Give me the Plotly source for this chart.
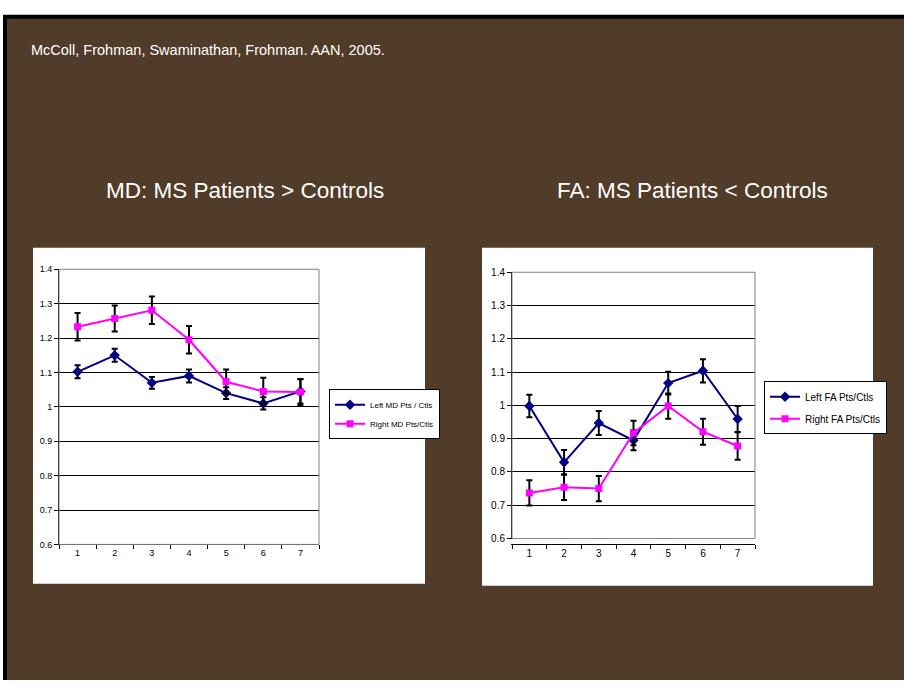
import plotly.graph_objects as go

W, H = 904, 686

# ---- data ----
categories = [1, 2, 3, 4, 5, 6, 7]
tick_labels = ["1", "2", "3", "4", "5", "6", "7"]

md_left = [1.102, 1.150, 1.070, 1.090, 1.040, 1.010, 1.045]
md_left_err = [0.019, 0.019, 0.017, 0.019, 0.017, 0.018, 0.035]
md_right = [1.233, 1.257, 1.281, 1.195, 1.073, 1.045, 1.043]
md_right_err = [0.040, 0.038, 0.040, 0.040, 0.036, 0.040, 0.038]

fa_left = [0.998, 0.829, 0.947, 0.895, 1.067, 1.104, 0.959]
fa_left_err = [0.034, 0.037, 0.036, 0.030, 0.034, 0.035, 0.039]
fa_right = [0.737, 0.754, 0.750, 0.917, 0.998, 0.921, 0.878]
fa_right_err = [0.038, 0.038, 0.038, 0.037, 0.038, 0.039, 0.041]

y_ticks = [0.6, 0.7, 0.8, 0.9, 1.0, 1.1, 1.2, 1.3, 1.4]
y_tick_text = ["0.6", "0.7", "0.8", "0.9", "1", "1.1", "1.2", "1.3", "1.4"]

NAVY = "#000080"
MAGENTA = "#ff00ff"
BROWN = "#503c28"


def px(x):
    return x / W


def py(y):
    return 1 - y / H


fig = go.Figure()


def add_series(xa, ya, leg, ylist, yerr, name, color, symbol, size):
    fig.add_trace(go.Scatter(
        x=categories, y=ylist, name=name, xaxis=xa, yaxis=ya, legend=leg,
        legendgroup=name,
        mode="lines+markers",
        line=dict(color=color, width=2),
        marker=dict(color=color, symbol=symbol, size=size),
        error_y=dict(type="data", array=yerr, visible=True, color="black",
                     thickness=2, width=3),
    ))


add_series("x", "y", "legend", md_left, md_left_err, "Left MD Pts / Ctls", NAVY, "diamond", 8)
add_series("x", "y", "legend", md_right, md_right_err, "Right MD Pts/Ctls", MAGENTA, "square", 7)
add_series("x2", "y2", "legend2", fa_left, fa_left_err, "Left FA Pts/Ctls", NAVY, "diamond", 8)
add_series("x2", "y2", "legend2", fa_right, fa_right_err, "Right FA Pts/Ctls", MAGENTA, "square", 7)

boundaries = [0.5, 1.5, 2.5, 3.5, 4.5, 5.5, 6.5, 7.5]


def xaxis_cfg(dom, fs):
    return dict(domain=dom, range=[0.5, 7.5], tickvals=categories, ticktext=tick_labels,
                ticks="", showgrid=False, zeroline=False, showline=True,
                linecolor="black", linewidth=1, fixedrange=True,
                tickfont=dict(family="Arial", size=fs, color="black"),
                minor=dict(tickvals=boundaries, ticks="outside", ticklen=4,
                           tickcolor="black", showgrid=False))


def yaxis_cfg(dom, fs, anchor):
    return dict(domain=dom, range=[0.6, 1.4], tickvals=y_ticks, ticktext=y_tick_text,
                ticks="outside", ticklen=4, tickcolor="black", showgrid=True,
                gridcolor="black", gridwidth=1, zeroline=False, showline=True,
                linecolor="black", linewidth=1, anchor=anchor, fixedrange=True,
                tickfont=dict(family="Arial", size=fs, color="black"))


shapes = [
    # black frame and brown slide
    dict(type="rect", xref="paper", yref="paper", x0=px(3), x1=1, y0=0, y1=py(9),
         fillcolor="black", line=dict(width=0), layer="below"),
    dict(type="rect", xref="paper", yref="paper", x0=px(7), x1=1, y0=0, y1=py(13),
         fillcolor=BROWN, line=dict(width=0), layer="below"),
    # white chart boxes
    dict(type="rect", xref="paper", yref="paper", x0=px(33), x1=px(425), y0=py(588), y1=py(246),
         fillcolor="white", line=dict(width=0), layer="below"),
    dict(type="rect", xref="paper", yref="paper", x0=px(482), x1=px(873), y0=py(590), y1=py(246),
         fillcolor="white", line=dict(width=0), layer="below"),
    # gray plot-area borders
    dict(type="rect", xref="x domain", yref="y domain", x0=0, x1=1, y0=0, y1=1,
         line=dict(color="#808080", width=1), layer="above"),
    dict(type="rect", xref="x2 domain", yref="y2 domain", x0=0, x1=1, y0=0, y1=1,
         line=dict(color="#808080", width=1), layer="above"),
]

annotations = [
    dict(text="McColl, Frohman, Swaminathan, Frohman. AAN, 2005.", xref="paper", yref="paper",
         x=px(29), y=py(45), xanchor="left", yanchor="middle", showarrow=False,
         font=dict(family="Arial", size=14.5, color="white")),
    dict(text="MD: MS Patients > Controls", xref="paper", yref="paper",
         x=px(245), y=py(188), xanchor="center", yanchor="middle", showarrow=False,
         font=dict(family="Arial", size=22.5, color="white")),
    dict(text="FA: MS Patients < Controls", xref="paper", yref="paper",
         x=px(692), y=py(188), xanchor="center", yanchor="middle", showarrow=False,
         font=dict(family="Arial", size=22.5, color="white")),
]

fig.update_layout(
    width=W, height=H,
    margin=dict(l=0, r=0, t=0, b=0),
    paper_bgcolor="white",
    plot_bgcolor="#c0c0c0",
    xaxis=xaxis_cfg([px(59), px(319)], 9),
    yaxis=yaxis_cfg([py(548), py(268)], 9, "x"),
    xaxis2=xaxis_cfg([px(512), px(755)], 10),
    yaxis2=yaxis_cfg([py(542), py(271)], 10, "x2"),
    legend=dict(x=px(329), y=py(390), xanchor="left", yanchor="top",
                bgcolor="white", bordercolor="black", borderwidth=1,
                font=dict(family="Arial", size=8, color="black"),
                itemwidth=30, tracegroupgap=0),
    legend2=dict(x=px(764), y=py(382), xanchor="left", yanchor="top",
                 bgcolor="white", bordercolor="black", borderwidth=1,
                 font=dict(family="Arial", size=10, color="black"),
                 itemwidth=30, tracegroupgap=3),
    shapes=shapes,
    annotations=annotations,
    showlegend=True,
)

fig.write_html("out.html",
               config={"displayModeBar": False},
               post_script="document.body.style.margin='0';document.body.style.overflow='hidden';")
